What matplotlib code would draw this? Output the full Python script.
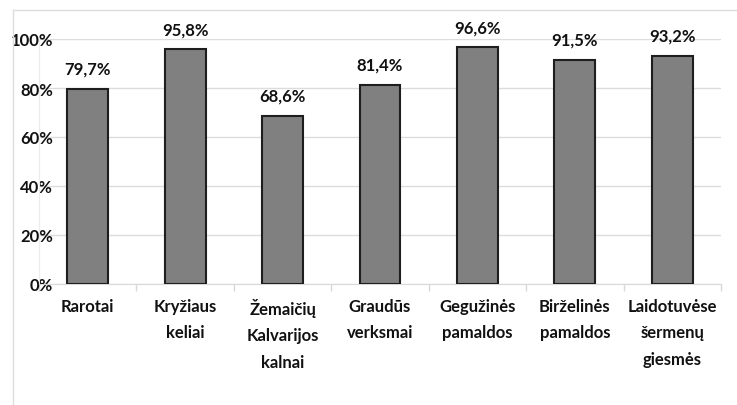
import matplotlib
matplotlib.use("Agg")
import matplotlib.pyplot as plt
from matplotlib.lines import Line2D

categories = ["Rarotai", "Kryžiaus\nkeliai", "Žemaičių\nKalvarijos\nkalnai", "Graudūs\nverksmai",
              "Gegužinės\npamaldos", "Birželinės\npamaldos", "Laidotuvėse\nšermenų\ngiesmės"]
values = [79.7, 95.8, 68.6, 81.4, 96.6, 91.5, 93.2]
labels = ["79,7%", "95,8%", "68,6%", "81,4%", "96,6%", "91,5%", "93,2%"]
yticks = [0, 20, 40, 60, 80, 100]

plt.rcParams['font.family'] = ['Lato', 'DejaVu Sans']
plt.rcParams['font.weight'] = 'bold'

W, H = 737, 406
fig = plt.figure(figsize=(W/100, H/100), dpi=100)
ax = fig.add_axes([39/W, 1-285/H, 682/W, 245/H])

x = list(range(len(categories)))
ax.bar(x, values, width=0.42, color="#808080", edgecolor="#1e1e1e", linewidth=1.5, zorder=3)
for xi, v, lab in zip(x, values, labels):
    ax.text(xi, v + 5, lab, ha="center", va="bottom", fontsize=12, fontweight="bold",
            clip_on=False, color="#111111", zorder=5)

ax.set_xlim(-0.5, len(categories) - 0.5)
ax.set_ylim(0, 100)
ax.set_yticks(yticks)
ax.set_yticklabels([f"{t}%" for t in yticks], fontsize=12, fontweight="bold", color="#111111")
ax.set_xticks(x)
ax.set_xticklabels(categories, fontsize=12, fontweight="bold", color="#111111", linespacing=1.8)
ax.tick_params(axis="x", length=0, pad=10)
ax.tick_params(axis="y", length=0, pad=-10)
for t in ax.get_yticklabels():
    t.set_zorder(6)
ax.set_xticks([i + 0.5 for i in range(-1, len(categories))], minor=True)
ax.tick_params(axis="x", which="minor", length=5, color="#d9d9d9", width=1)
ax.grid(axis="y", color="#dcdcdc", linewidth=1, zorder=0)
for s in ["top", "right"]:
    ax.spines[s].set_visible(False)
ax.spines["left"].set_color("#ececec")
ax.spines["bottom"].set_color("#d9d9d9")

# outer chart border
fig.add_artist(Line2D([13/W, 13/W], [0, 1-11/H], transform=fig.transFigure, color="#dddddd", lw=1))
fig.add_artist(Line2D([13/W, 1], [1-11/H, 1-11/H], transform=fig.transFigure, color="#dddddd", lw=1))

fig.savefig("out.png", dpi=100)
